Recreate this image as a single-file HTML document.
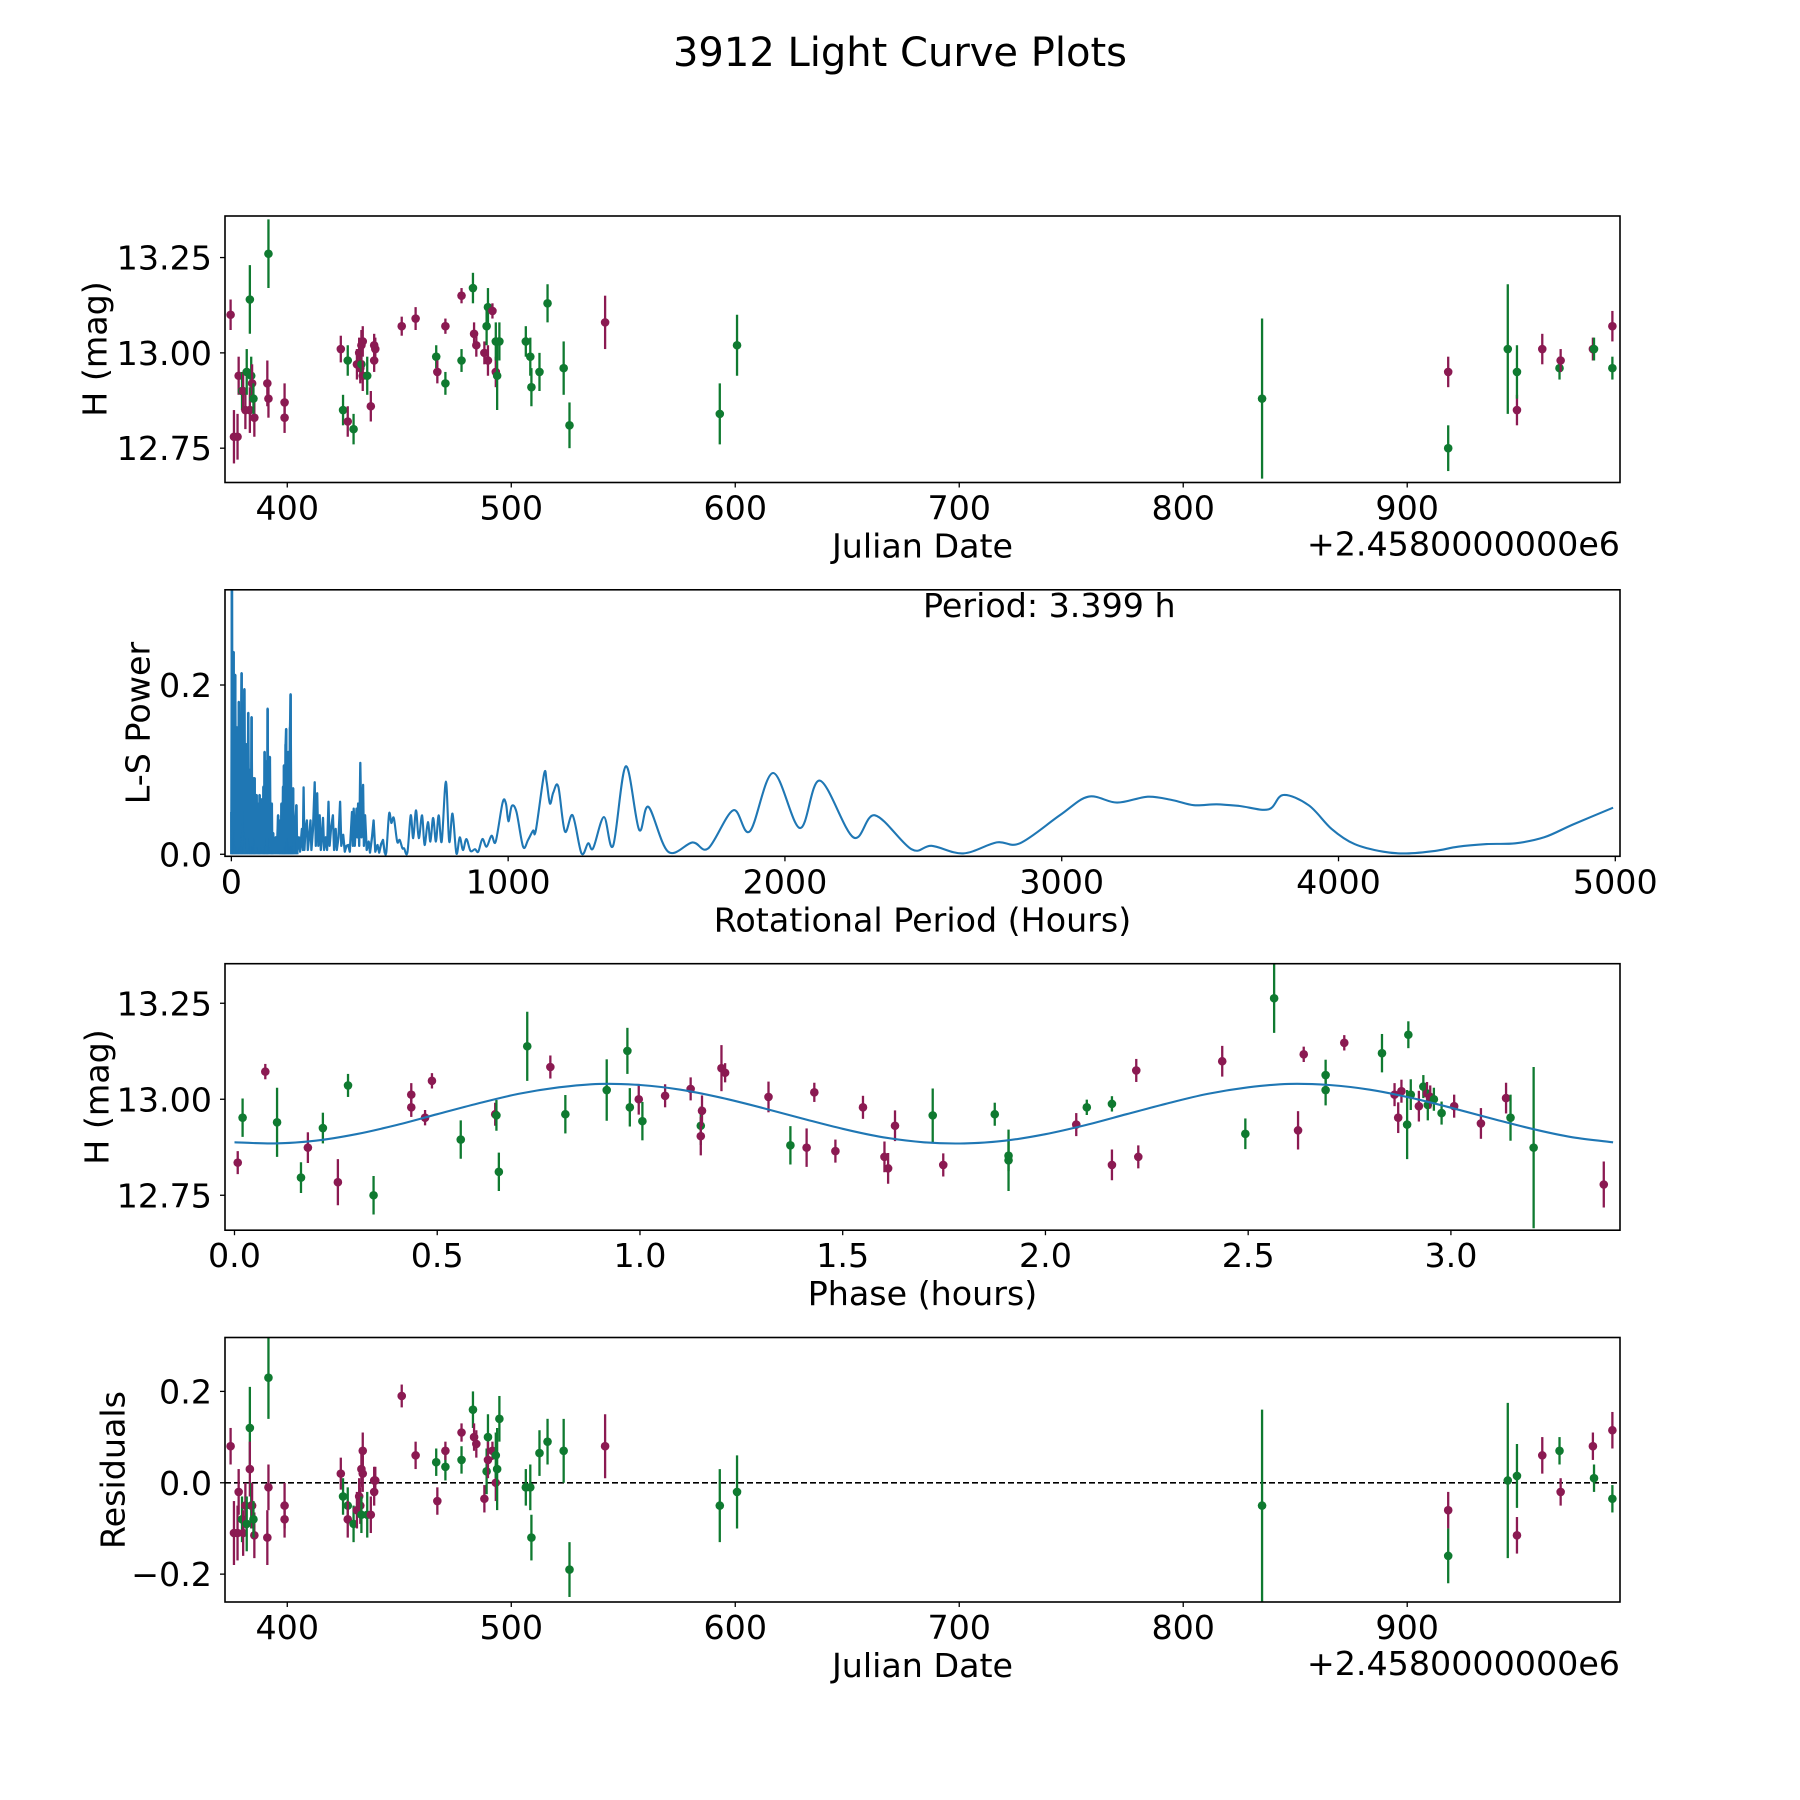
<!DOCTYPE html>
<html><head><meta charset="utf-8"><title>3912 Light Curve Plots</title>
<style>
html,body{margin:0;padding:0;background:#fff;}
svg{display:block;font-family:"DejaVu Sans","Liberation Sans",sans-serif;}
</style></head>
<body>
<svg id="fig" width="1800" height="1800" viewBox="0 0 1800 1800" xmlns="http://www.w3.org/2000/svg">
<rect x="0" y="0" width="1800" height="1800" fill="#fff"/>
<text x="900" y="66" font-size="40" text-anchor="middle" fill="#000">3912 Light Curve Plots</text>
</svg>
<script>
// ---- Panel 1 / 4 data (Julian date offset, magnitude, error, filter, residual)
const jdDates = [374.7,376.2,377.8,378.3,379.8,380.3,381.3,381.9,383.3,383.3,383.9,384.3,385.3,384.9,391.1,391.6,391.6,398.8,398.8,423.9,424.9,427,427,429.6,431.1,432.1,432.6,433.1,433.1,433.7,433.7,435.7,437.3,438.8,438.8,439.3,451.1,457.3,466.5,467,470.6,470.6,477.8,477.8,482.9,483.4,484.4,488,489,489.6,489.6,491.6,493.1,493.1,493.7,494.7,506.5,508.5,509,512.6,516.2,523.4,526,541.9,593.1,600.8,835.2,918.3,918.3,944.9,949,949,960.3,968,968.5,982.9,983.4,991.6,991.6];
const magValues = [13.10,12.78,12.78,12.94,12.90,12.90,12.85,12.95,13.14,12.85,12.94,12.92,12.83,12.88,12.92,12.88,13.26,12.87,12.83,13.01,12.85,12.98,12.82,12.80,12.97,13.00,12.96,12.97,13.02,13.03,12.94,12.94,12.86,13.02,12.98,13.01,13.07,13.09,12.99,12.95,12.92,13.07,12.98,13.15,13.17,13.05,13.02,13.00,13.07,13.12,12.98,13.11,12.95,13.03,12.94,13.03,13.03,12.99,12.91,12.95,13.13,12.96,12.81,13.08,12.84,13.02,12.88,12.95,12.75,13.01,12.85,12.95,13.01,12.96,12.98,13.01,13.01,13.07,12.96];
const magErrors = [0.04,0.07,0.06,0.05,0.05,0.05,0.05,0.06,0.09,0.06,0.05,0.05,0.05,0.04,0.06,0.05,0.09,0.05,0.04,0.035,0.04,0.04,0.04,0.04,0.04,0.04,0.04,0.04,0.04,0.04,0.04,0.05,0.04,0.03,0.03,0.03,0.025,0.03,0.03,0.03,0.03,0.02,0.03,0.02,0.04,0.03,0.03,0.03,0.05,0.05,0.04,0.02,0.04,0.05,0.09,0.05,0.04,0.05,0.05,0.05,0.05,0.07,0.06,0.07,0.08,0.08,0.21,0.04,0.06,0.17,0.04,0.07,0.04,0.03,0.03,0.03,0.03,0.04,0.03];
const filters = ["m","m","m","m","g","m","m","g","g","m","g","m","m","g","m","m","g","m","m","m","g","g","m","g","m","m","m","g","m","m","m","g","m","m","m","m","m","m","g","m","g","m","g","m","g","m","m","m","g","g","m","m","m","g","g","g","g","g","g","g","g","g","g","m","g","g","g","m","g","g","m","g","m","g","m","m","g","m","g"];
const residualValues = [0.08,-0.11,-0.11,-0.02,-0.08,-0.11,-0.05,-0.09,0.12,0.03,-0.05,-0.05,-0.115,-0.08,-0.12,-0.01,0.23,-0.05,-0.08,0.02,-0.03,-0.05,-0.08,-0.09,-0.06,-0.03,-0.05,-0.07,0.03,0.07,0.02,-0.07,-0.07,-0.02,0.005,0.005,0.19,0.06,0.045,-0.04,0.035,0.07,0.05,0.11,0.16,0.10,0.085,-0.035,0.025,0.10,0.05,0.07,0.0,0.06,0.03,0.14,-0.01,-0.01,-0.12,0.065,0.09,0.07,-0.19,0.08,-0.05,-0.02,-0.05,-0.06,-0.16,0.005,-0.115,0.015,0.06,0.07,-0.02,0.08,0.01,0.115,-0.035];
const jdTicks = [400,500,600,700,800,900];
const magTicks = [12.75,13.00,13.25];
const magTickLabels = ["12.75","13.00","13.25"];
const residTicks = [-0.2,0.0,0.2];
const residTickLabels = ["\u22120.2","0.0","0.2"];

// ---- Panel 2 data (periodogram)
const lsPeriods = [0,2,4,8,10,14,17,20,23,27,30,34,37,40,44,47,50,54,57,61,64,68,70,73,76,80,82,84,87,91,94,98,100,102,105,109,112,116,118,120,123,127,129,131,134,139,142,146,148,151,155,160,164,169,172,176,178,181,184,187,189,190,193,196,198,201,204,206,209,212,214,217,220,223,226,230,235,238,244,248,255,258,261,264,268,273,276,281,286,289,295,301,305,310,314,319,323,327,331,335,341,346,351,355,360,367,371,377,381,387,393,397,404,410,416,422,428,436,439,442,446,452,455,458,462,466,470,476,479,483,489,496,501,508,514,520,528,534,541,548,554,
560,570,578,587,599,608,618,624,636,648,657,667,677,689,698,710,719,729,739,749,760,775,787,799,813,825,837,849,864,880,892,907,922,940,955,980,992,1001,1013,1030,1054,1072,1090,1100,1130,1139,1151,1163,1181,1205,1233,1265,1289,1307,1346,1379,1425,1473,1507,1578,1666,1723,1813,1873,1957,2054,2126,2247,2325,2457,2530,2644,2765,2849,2993,3096,3200,3311,3400,3477,3560,3643,3747,3800,3892,3975,4058,4162,4245,4349,4432,4535,4639,4743,4846,4992];
const lsPower = [0.05,0.312,0.02,0.239,0.03,0.212,0.01,0.15,0.005,0.18,0.01,0.12,0.214,0.01,0.15,0.195,0.02,0.13,0.005,0.167,0.02,0.1,0.01,0.162,0.01,0.09,0.02,0.09,0.005,0.07,0.01,0.06,0.005,0.07,0.01,0.065,0.005,0.08,0.01,0.121,0.02,0.11,0.01,0.172,0.02,0.115,0.005,0.06,0.005,0.025,0.003,0.02,0.003,0.046,0.005,0.04,0.003,0.06,0.005,0.08,0.01,0.105,0.01,0.13,0.148,0.02,0.1,0.121,0.01,0.15,0.189,0.01,0.06,0.078,0.005,0.03,0.058,0.003,0.02,0.003,0.03,0.005,0.079,0.005,0.03,0.04,0.005,0.02,0.04,0.005,0.03,0.085,0.01,0.072,0.01,0.046,0.005,0.02,0.043,0.005,0.02,0.005,0.062,0.01,0.03,0.046,0.005,0.03,0.005,0.02,0.062,0.01,0.023,0.003,0.01,0.011,0.003,0.05,0.01,0.054,0.01,0.054,0.02,0.06,0.01,0.108,0.02,0.082,0.01,0.046,0.005,0.015,0.002,0.02,0.04,0.003,0.011,0.002,0.012,0.017,0.002,
0.003,0.048,0.037,0.043,0.015,0.017,0.007,0.007,0.002,0.046,0.019,0.052,0.019,0.046,0.011,0.038,0.015,0.043,0.015,0.046,0.015,0.086,0.015,0.048,0.001,0.02,0.005,0.018,0.004,0.006,0.003,0.018,0.009,0.022,0.015,0.061,0.06,0.039,0.057,0.05,0.009,0.017,0.028,0.028,0.095,0.086,0.06,0.073,0.08,0.027,0.046,0.001,0.013,0.007,0.044,0.010,0.104,0.029,0.056,0.003,0.014,0.007,0.052,0.027,0.096,0.031,0.087,0.02,0.046,0.006,0.010,0.001,0.014,0.013,0.046,0.068,0.061,0.068,0.064,0.058,0.059,0.057,0.053,0.07,0.058,0.03,0.012,0.003,0.001,0.004,0.009,0.012,0.013,0.02,0.035,0.055];
const periodTicks = [0,1000,2000,3000,4000,5000];
const powerTicks = [0.0,0.2];
const powerTickLabels = ["0.0","0.2"];

// ---- Panel 3 data (phased light curve)
const phaseValues = [0.008,0.02,0.076,0.105,0.164,0.181,0.218,0.255,0.28,0.343,0.436,0.436,0.47,0.487,0.558,0.643,0.646,0.652,0.722,0.779,0.816,0.918,0.969,0.975,0.997,1.006,1.062,1.125,1.15,1.15,1.153,1.201,1.21,1.317,1.371,1.411,1.43,1.482,1.55,1.603,1.612,1.629,1.722,1.748,1.875,1.909,1.909,2.076,2.102,2.164,2.164,2.224,2.229,2.436,2.493,2.564,2.623,2.637,2.691,2.691,2.737,2.83,2.861,2.87,2.878,2.895,2.892,2.901,2.921,2.932,2.941,2.943,2.949,2.958,2.977,3.008,3.074,3.136,3.147,3.204,3.377];
const phaseMags = [12.835,12.952,13.072,12.94,12.796,12.874,12.925,12.784,13.036,12.75,13.012,12.979,12.952,13.048,12.895,12.961,12.958,12.811,13.138,13.084,12.961,13.024,13.126,12.979,13.0,12.943,13.009,13.027,12.931,12.904,12.97,13.081,13.069,13.006,12.88,12.874,13.018,12.865,12.979,12.85,12.82,12.931,12.958,12.829,12.961,12.841,12.853,12.934,12.979,12.988,12.829,13.075,12.85,13.099,12.91,13.263,12.919,13.117,13.063,13.024,13.147,13.12,13.012,12.952,13.021,13.168,12.934,13.012,12.982,13.033,13.015,12.985,13.006,13.0,12.964,12.982,12.937,13.003,12.952,12.874,12.778];
const phaseErrors = [0.03,0.05,0.02,0.09,0.04,0.04,0.04,0.06,0.03,0.05,0.03,0.025,0.02,0.02,0.05,0.03,0.04,0.05,0.09,0.03,0.05,0.08,0.06,0.05,0.04,0.05,0.03,0.03,0.05,0.05,0.04,0.06,0.025,0.04,0.05,0.05,0.025,0.03,0.03,0.04,0.04,0.04,0.07,0.03,0.03,0.08,0.04,0.03,0.02,0.02,0.04,0.03,0.03,0.04,0.04,0.09,0.05,0.02,0.04,0.04,0.02,0.05,0.03,0.04,0.03,0.035,0.09,0.04,0.04,0.03,0.03,0.04,0.03,0.03,0.03,0.03,0.04,0.04,0.06,0.21,0.06];
const phaseFilters = ["m","g","m","g","g","m","g","m","g","g","m","m","m","m","g","m","g","g","g","m","g","g","g","g","m","g","m","m","g","m","m","m","m","m","g","m","m","m","m","m","m","m","g","m","g","g","g","m","g","g","m","m","m","m","g","g","m","m","g","g","m","g","m","m","m","g","g","g","m","g","m","g","m","g","g","m","m","m","g","g","m"];
const modelPhase = [0,0.1,0.2,0.3,0.4,0.5,0.6,0.7,0.8,0.9,1.0,1.1,1.2,1.3,1.4,1.5,1.6,1.7,1.8,1.9,2.0,2.1,2.2,2.3,2.4,2.5,2.6,2.7,2.8,2.9,3.0,3.1,3.2,3.3,3.4];
const modelMag = [12.888,12.885,12.892,12.909,12.933,12.961,12.989,13.014,13.031,13.040,13.037,13.025,13.004,12.978,12.950,12.923,12.901,12.888,12.885,12.892,12.909,12.933,12.961,12.989,13.014,13.031,13.040,13.037,13.025,13.004,12.978,12.950,12.923,12.901,12.888];
const phaseTicks = [0,0.5,1.0,1.5,2.0,2.5,3.0];
const phaseTickLabels = ["0.0","0.5","1.0","1.5","2.0","2.5","3.0"];

const NS = "http://www.w3.org/2000/svg";
const svg = document.getElementById("fig");
const COLORS = {m:"#8b1a52", g:"#0f7a30"};
const FS = 33.3;

function mk(tag, attrs, parent){
  const e = document.createElementNS(NS, tag);
  for (const k in attrs) e.setAttribute(k, attrs[k]);
  (parent||svg).appendChild(e);
  return e;
}
function smoothPath(P){
  let d = "M" + P[0][0].toFixed(1) + "," + P[0][1].toFixed(1);
  for (let i = 0; i < P.length - 1; i++){
    const p0 = P[Math.max(0,i-1)], p1 = P[i], p2 = P[i+1], p3 = P[Math.min(P.length-1,i+2)];
    const c1x = p1[0] + (p2[0]-p0[0])/6, c1y = p1[1] + (p2[1]-p0[1])/6;
    const c2x = p2[0] - (p3[0]-p1[0])/6, c2y = p2[1] - (p3[1]-p1[1])/6;
    d += " C" + c1x.toFixed(1) + "," + c1y.toFixed(1) + " " + c2x.toFixed(1) + "," + c2y.toFixed(1) + " " + p2[0].toFixed(1) + "," + p2[1].toFixed(1);
  }
  return d;
}
function makeAxes(id, L, R, T, B, x0, x1, y0, y1){
  const ax = {L,R,T,B,
    sx: v => L + (v - x0) / (x1 - x0) * (R - L),
    sy: v => B - (v - y0) / (y1 - y0) * (B - T)};
  const cp = mk("clipPath", {id: "clip-" + id});
  mk("rect", {x:L, y:T, width:R-L, height:B-T}, cp);
  const g = mk("g", {"clip-path": "url(#clip-" + id + ")"});
  
  
  ax.g = g;
  return ax;
}
function frame(ax, id){
  const r = mk("rect", {x:ax.L, y:ax.T, width:ax.R-ax.L, height:ax.B-ax.T, fill:"none", stroke:"#000", "stroke-width":1.6});
  
  
}
function xTicks(ax, id, vals, labels){
  vals.forEach((v,i) => {
    const x = ax.sx(v);
    const t = mk("line", {x1:x, x2:x, y1:ax.B, y2:ax.B+5, stroke:"#000", "stroke-width":1.3});
    
    
    const tx = mk("text", {x:x, y:ax.B+37, "font-size":FS, "text-anchor":"middle"});
    tx.textContent = labels[i];
    
    
  });
}
function yTicks(ax, id, vals, labels){
  vals.forEach((v,i) => {
    const y = ax.sy(v);
    const t = mk("line", {x1:ax.L-5, x2:ax.L, y1:y, y2:y, stroke:"#000", "stroke-width":1.3});
    
    
    const tx = mk("text", {x:ax.L-13, y:y+12, "font-size":FS, "text-anchor":"end"});
    tx.textContent = labels[i];
    
    
  });
}
function yLabel(text, cx, cy, name){
  const t = mk("text", {x:cx, y:cy, "font-size":FS, "text-anchor":"middle", "dominant-baseline":"central", transform:"rotate(-90 "+cx+" "+cy+")"});
  t.textContent = text;
  
  
}
function xLabel(text, ax, name){
  const t = mk("text", {x:(ax.L+ax.R)/2, y:ax.B+75, "font-size":FS, "text-anchor":"middle"});
  t.textContent = text;
  
  
}
function offsetText(ax, name){
  const t = mk("text", {x:ax.R, y:ax.B+73, "font-size":FS, "text-anchor":"end"});
  t.textContent = "+2.4580000000e6";
  
  
}
function errPoint(ax, x, y, e, col, name){
  const px = ax.sx(x), py = ax.sy(y);
  const l = mk("line", {x1:px, x2:px, y1:ax.sy(y+e), y2:ax.sy(y-e), stroke:col, "stroke-width":2.3}, ax.g);
  
  
  const c = mk("circle", {cx:px, cy:py, r:4.3, fill:col}, ax.g);
  
  
}

// Panel 1
const ax1 = makeAxes("light-curve", 225, 1620, 216, 482.5, 372.2, 995, 12.66, 13.359);
jdDates.forEach((d,i) => errPoint(ax1, d, magValues[i], magErrors[i], COLORS[filters[i]], "magnitude-point"));
frame(ax1, "light-curve");
xTicks(ax1, "light-curve", jdTicks, jdTicks.map(String));
yTicks(ax1, "light-curve", magTicks, magTickLabels);
yLabel("H (mag)", 95, 349, "light-curve-y-axis-title");
xLabel("Julian Date", ax1, "light-curve-x-axis-title");
offsetText(ax1, "light-curve-x-offset");

// Panel 2
const ax2 = makeAxes("periodogram", 225, 1620, 589.8, 856.3, -23, 5017, -0.0024, 0.3125);
const densePts = [], smoothPts = [];
lsPeriods.forEach((p,i) => {
  const pt = [ax2.sx(p), ax2.sy(lsPower[i])];
  if (p <= 560) densePts.push(pt);
  if (p >= 554) smoothPts.push(pt);
  if (p < 240) {
    const v = mk("line", {x1:pt[0], x2:pt[0], y1:ax2.sy(0), y2:pt[1], stroke:"#1f77b4", "stroke-width":2.6}, ax2.g);
    
    
  }
});
const pl = mk("polyline", {points:densePts.map(q => q[0].toFixed(1)+","+q[1].toFixed(1)).join(" "), fill:"none", stroke:"#1f77b4", "stroke-width":2.3, "stroke-linejoin":"round"}, ax2.g);


const sp = mk("path", {d:smoothPath(smoothPts), fill:"none", stroke:"#1f77b4", "stroke-width":2.1}, ax2.g);


frame(ax2, "periodogram");
xTicks(ax2, "periodogram", periodTicks, periodTicks.map(String));
yTicks(ax2, "periodogram", powerTicks, powerTickLabels);
yLabel("L-S Power", 138, 723, "periodogram-y-axis-title");
xLabel("Rotational Period (Hours)", ax2, "periodogram-x-axis-title");
const pt = mk("text", {x:923, y:617, "font-size":FS, "text-anchor":"start"});
pt.textContent = "Period: 3.399 h";



// Panel 3
const ax3 = makeAxes("phased-curve", 225, 1620, 963.7, 1230.2, -0.0234, 3.417, 12.659, 13.353);
phaseValues.forEach((p,i) => errPoint(ax3, p, phaseMags[i], phaseErrors[i], COLORS[phaseFilters[i]], "phased-point"));
const mP = modelPhase.map((p,i) => [ax3.sx(p), ax3.sy(modelMag[i])]);
const ml = mk("path", {d:smoothPath(mP), fill:"none", stroke:"#1f77b4", "stroke-width":2.1}, ax3.g);


frame(ax3, "phased-curve");
xTicks(ax3, "phased-curve", phaseTicks, phaseTickLabels);
yTicks(ax3, "phased-curve", magTicks, magTickLabels);
yLabel("H (mag)", 97, 1097, "phased-curve-y-axis-title");
xLabel("Phase (hours)", ax3, "phased-curve-x-axis-title");

// Panel 4
const ax4 = makeAxes("residuals", 225, 1620, 1337.5, 1602, 372.2, 995, -0.261, 0.318);
const zl = mk("line", {x1:ax4.L, x2:ax4.R, y1:ax4.sy(0), y2:ax4.sy(0), stroke:"#000", "stroke-width":1.6, "stroke-dasharray":"6,3"}, ax4.g);


jdDates.forEach((d,i) => errPoint(ax4, d, residualValues[i], magErrors[i], COLORS[filters[i]], "residual-point"));
frame(ax4, "residuals");
xTicks(ax4, "residuals", jdTicks, jdTicks.map(String));
yTicks(ax4, "residuals", residTicks, residTickLabels);
yLabel("Residuals", 113, 1470, "residuals-y-axis-title");
xLabel("Julian Date", ax4, "residuals-x-axis-title");
offsetText(ax4, "residuals-x-offset");
</script>
</body></html>
